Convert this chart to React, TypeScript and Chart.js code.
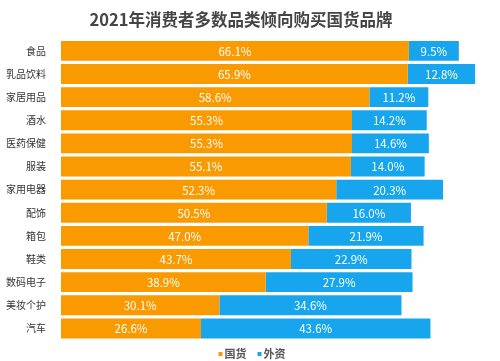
import React, { useEffect, useRef } from "react";
import { Chart, registerables } from "chart.js";

Chart.register(...registerables);

const TITLE = "2021年消费者多数品类倾向购买国货品牌";
const categories = ["食品", "乳品饮料", "家居用品", "酒水", "医药保健", "服装", "家用电器", "配饰", "箱包", "鞋类", "数码电子", "美妆个护", "汽车"];
const domesticValues = [66.1, 65.9, 58.6, 55.3, 55.3, 55.1, 52.3, 50.5, 47.0, 43.7, 38.9, 30.1, 26.6];
const foreignValues = [9.5, 12.8, 11.2, 14.2, 14.6, 14.0, 20.3, 16.0, 21.9, 22.9, 27.9, 34.6, 43.6];
const seriesNames = ["国货", "外资"];
const seriesColors = ["#F89A00", "#17A6EE"];

const FONT = "'Noto Sans CJK SC', 'Noto Sans', sans-serif";

const labelPlugin = {
  id: "barLabels",
  afterDatasetsDraw(chart: any) {
    const ctx = chart.ctx;
    ctx.save();
    ctx.fillStyle = "#ffffff";
    ctx.font = `11.5px ${FONT}`;
    ctx.textAlign = "center";
    ctx.textBaseline = "middle";
    chart.data.datasets.forEach((ds: any, i: number) => {
      const meta = chart.getDatasetMeta(i);
      meta.data.forEach((bar: any, j: number) => {
        const p = bar.getProps(["x", "base", "y"], true);
        const cx = (p.x + p.base) / 2;
        ctx.fillText(Number(ds.data[j]).toFixed(1) + "%", cx, p.y + 0.5);
      });
    });
    ctx.restore();
  },
};

const legendPlugin = {
  id: "customLegend",
  afterDraw(chart: any) {
    const ctx = chart.ctx;
    ctx.save();
    ctx.font = `bold 11px ${FONT}`;
    ctx.textBaseline = "middle";
    const box = 4;
    const gap = 2;
    const itemGap = 11;
    const items = chart.data.datasets.map((ds: any) => ({
      text: ds.label,
      color: ds.backgroundColor,
      w: box + gap + ctx.measureText(ds.label).width,
    }));
    const total = items.reduce((s: number, it: any) => s + it.w, 0) + itemGap * (items.length - 1);
    let x = chart.width / 2 + 2 - total / 2;
    const y = 354;
    items.forEach((it: any) => {
      ctx.fillStyle = it.color;
      ctx.fillRect(x, y - box / 2, box, box);
      ctx.fillStyle = "#555555";
      ctx.textAlign = "left";
      ctx.fillText(it.text, x + box + gap, y);
      x += it.w + itemGap;
    });
    ctx.restore();
  },
};

export default function App() {
  const ref = useRef<HTMLCanvasElement>(null);
  useEffect(() => {
    if (!ref.current) return;
    const chart = new Chart(ref.current, {
      type: "bar",
      data: {
        labels: categories,
        datasets: [
          {
            label: seriesNames[0],
            data: domesticValues,
            backgroundColor: seriesColors[0],
            borderWidth: 0,
            barPercentage: 0.86,
            categoryPercentage: 1,
          },
          {
            label: seriesNames[1],
            data: foreignValues,
            backgroundColor: seriesColors[1],
            borderWidth: 0,
            barPercentage: 0.86,
            categoryPercentage: 1,
          },
        ],
      },
      options: {
        indexAxis: "y",
        responsive: false,
        animation: false,
        layout: { padding: { left: 0, right: 18, top: 0, bottom: 21 } },
        scales: {
          x: {
            stacked: true,
            min: 0,
            max: 80,
            display: false,
          },
          y: {
            stacked: true,
            grid: { display: false },
            border: { display: false },
            ticks: {
              color: "#333333",
              font: { family: FONT, size: 10 },
              padding: 7,
            },
            afterFit: (scale: any) => {
              scale.width = 61;
            },
          },
        },
        plugins: {
          legend: { display: false },
          tooltip: { enabled: false },
          title: {
            display: true,
            text: TITLE,
            color: "#454545",
            font: { family: FONT, size: 16.5, weight: "bold" },
            padding: { top: 10, bottom: 9.5 },
          },
        },
      },
      plugins: [labelPlugin, legendPlugin],
    });
    return () => chart.destroy();
  }, []);
  return (
    <div style={{ position: "absolute", left: 0, top: 0, width: 500, height: 361, background: "#fff" }}>
      <canvas ref={ref} width={500} height={361} style={{ display: "block" }} />
    </div>
  );
}
